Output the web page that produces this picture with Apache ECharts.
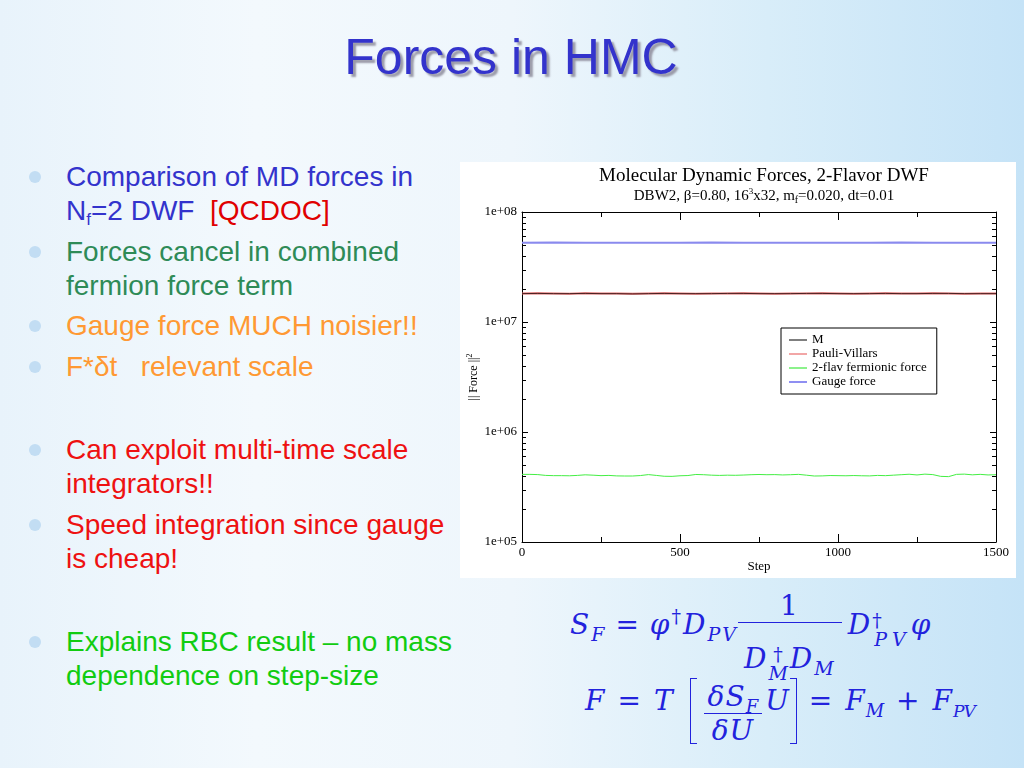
<!DOCTYPE html>
<html><head><meta charset="utf-8">
<script src="https://cdn.jsdelivr.net/npm/echarts@6/dist/echarts.min.js"></script>
<style>
html,body{margin:0;padding:0;}
#slide{position:relative;width:1024px;height:768px;overflow:hidden;
  background:linear-gradient(90deg,#e8f3fb 0%,#f3f9fd 25%,#eef6fc 50%,#d8edf9 75%,#c5e3f7 100%);
  font-family:'Liberation Sans',Arial,sans-serif;}
#title{position:absolute;left:0;top:27px;width:1022px;text-align:center;font-size:50px;line-height:60px;color:#3333cc;text-shadow:3px 3px 2px #9a9aa8;}
.ln{position:absolute;left:66px;font-size:28px;line-height:34px;white-space:nowrap;}
.ln sub{font-size:17px;vertical-align:-5px;line-height:0;}
.dot{position:absolute;left:29px;width:12px;height:12px;border-radius:50%;background:#c2ddf3;}
.blue{color:#3333cc}.red{color:#e00000}.teal{color:#2e8b57}.orange{color:#ff9933}.lred{color:#ee1111}.green{color:#11cc11}
#chart{position:absolute;left:460px;top:162px;width:556px;height:416px;background:#fff;}
.math{position:absolute;font-family:'DejaVu Serif',serif;font-size:28px;color:#2222dd;white-space:nowrap;line-height:34px;}
#f1{letter-spacing:2px}
#f2{letter-spacing:1px}
.it{font-style:italic}
.sb{font-size:19px;font-style:italic;vertical-align:-7px;line-height:0;}
.sp{font-size:19px;vertical-align:11px;line-height:0;}
.ss{display:inline-block;vertical-align:-12px;font-size:19px;line-height:19px;}
.ss span{display:block}
.ss.w span + span{letter-spacing:5px;padding-left:2px}
.frac{display:inline-block;text-align:center;margin:0 3px;}
.frac .num{display:block;border-bottom:1.5px solid #2222dd;padding:0 10px;line-height:32px;}
.frac .den{display:block;line-height:34px;}
#f1 .frac{vertical-align:-34px;margin:0 6px 0 0}
#f1 .frac .den{padding:22px 6px 0 6px;line-height:20px;}
#f1 .op{margin:0 9px}
#f2 .frac{vertical-align:-30px}
#f2 .frac .num{padding:0 4px}
#f2 .sb{letter-spacing:0;font-size:18px}
#f2 .sb.n{letter-spacing:-1px;font-size:17px}
.op{margin:0 12px;font-style:normal}
.brk{display:inline-block;width:6px;height:64px;vertical-align:-34px;border:1.5px solid #2222dd;}
.brk.l{border-right:none;margin-right:4px;margin-left:16px}
.brk.r{border-left:none;margin-left:0;margin-right:0}
</style></head>
<body>
<div id="slide">
  <div id="title">Forces in HMC</div>

  <div class="dot" style="top:171px"></div>
  <div class="ln blue" style="top:160px">Comparison of MD forces in</div>
  <div class="ln blue" style="top:194px">N<sub>f</sub>=2 DWF&nbsp; <span class="red">[QCDOC]</span></div>
  <div class="dot" style="top:246px"></div>
  <div class="ln teal" style="top:235px">Forces cancel in combined</div>
  <div class="ln teal" style="top:269px">fermion force term</div>
  <div class="dot" style="top:320px"></div>
  <div class="ln orange" style="top:309px">Gauge force MUCH noisier!!</div>
  <div class="dot" style="top:361px"></div>
  <div class="ln orange" style="top:350px">F*δt &nbsp; relevant scale</div>
  <div class="dot" style="top:444px"></div>
  <div class="ln lred" style="top:433px">Can exploit multi-time scale</div>
  <div class="ln lred" style="top:467px">integrators!!</div>
  <div class="dot" style="top:519px"></div>
  <div class="ln lred" style="top:508px">Speed integration since gauge</div>
  <div class="ln lred" style="top:542px">is cheap!</div>
  <div class="dot" style="top:636px"></div>
  <div class="ln green" style="top:625px">Explains RBC result – no mass</div>
  <div class="ln green" style="top:659px">dependence on step-size</div>

  <div id="chart"></div>

  <div id="f1" class="math" style="left:570px;top:590px"><span class="it">S</span><span class="sb">F</span><span class="op">=</span><span class="it">φ</span><span class="sp">†</span><span class="it">D</span><span class="sb">PV</span><span class="frac"><span class="num">1</span><span class="den"><span class="it">D</span><span class="ss"><span>†</span><span class="it">M</span></span><span class="it">D</span><span class="sb">M</span></span></span><span class="it">D</span><span class="ss w"><span>†</span><span class="it">PV</span></span><span class="it">φ</span></div>
  <div id="f2" class="math" style="left:585px;top:678px"><span class="it">F</span><span class="op">=</span><span class="it">T</span><span class="brk l"></span><span class="frac"><span class="num"><span class="it">δS</span><span class="sb">F</span></span><span class="den"><span class="it">δU</span></span></span><span class="it">U</span><span class="brk r"></span><span class="op">=</span><span class="it">F</span><span class="sb">M</span><span class="op">+</span><span class="it">F</span><span class="sb n">PV</span></div>
</div>
<script>
// ---- data ----
const stepsFermion = [0,25,50,75,100,125,150,175,200,225,250,275,300,325,350,375,400,425,450,475,500,525,550,575,600,625,650,675,700,725,750,775,800,825,850,875,900,925,950,975,1000,1025,1050,1075,1100,1125,1150,1175,1200,1225,1250,1275,1300,1325,1350,1375,1400,1425,1450,1475,1500];
const fermionForce = [4.12e5,4.12e5,4.10e5,4.03e5,4.01e5,4.01e5,4.00e5,4.03e5,4.08e5,4.05e5,4.01e5,4.03e5,3.99e5,3.98e5,3.98e5,4.02e5,4.10e5,4.03e5,3.96e5,3.95e5,4.00e5,4.02e5,4.11e5,4.09e5,4.05e5,4.03e5,4.05e5,4.04e5,4.06e5,4.09e5,4.11e5,4.09e5,4.10e5,4.07e5,4.09e5,4.12e5,4.05e5,3.98e5,3.99e5,4.02e5,4.01e5,4.00e5,4.02e5,4.00e5,3.99e5,4.03e5,4.01e5,4.05e5,4.09e5,4.13e5,4.07e5,4.14e5,4.10e5,3.95e5,3.93e5,4.12e5,4.14e5,4.08e5,4.12e5,4.07e5,4.09e5];
const stepsMPV = [0,50,100,150,200,250,300,350,400,450,500,550,600,650,700,750,800,850,900,950,1000,1050,1100,1150,1200,1250,1300,1350,1400,1450,1500];
const pauliVillars = [1.82e7,1.83e7,1.82e7,1.81e7,1.83e7,1.82e7,1.82e7,1.81e7,1.82e7,1.83e7,1.82e7,1.81e7,1.82e7,1.82e7,1.83e7,1.82e7,1.81e7,1.82e7,1.82e7,1.83e7,1.82e7,1.81e7,1.82e7,1.83e7,1.82e7,1.82e7,1.83e7,1.82e7,1.81e7,1.82e7,1.82e7];
const mForce = [1.81e7,1.82e7,1.81e7,1.81e7,1.82e7,1.81e7,1.81e7,1.80e7,1.81e7,1.82e7,1.81e7,1.81e7,1.81e7,1.82e7,1.82e7,1.81e7,1.81e7,1.81e7,1.82e7,1.82e7,1.81e7,1.81e7,1.81e7,1.82e7,1.81e7,1.81e7,1.82e7,1.82e7,1.81e7,1.81e7,1.81e7];
const stepsGauge = [0,100,200,300,400,500,600,700,800,900,1000,1100,1200,1300,1400,1500];
const gaugeForce = [5.26e7,5.27e7,5.26e7,5.26e7,5.25e7,5.26e7,5.27e7,5.26e7,5.26e7,5.25e7,5.26e7,5.26e7,5.27e7,5.26e7,5.26e7,5.25e7];
const seriesNames = ['M','Pauli-Villars','2-flav fermionic force','Gauge force'];
const xTickLabels = {0:'0',500:'500',1000:'1000',1500:'1500'};
const yTickLabels = {1e5:'1e+05',1e6:'1e+06',1e7:'1e+07',1e8:'1e+08'};
const yMinorTicks = [2e5,3e5,4e5,5e5,6e5,7e5,8e5,9e5,2e6,3e6,4e6,5e6,6e6,7e6,8e6,9e6,2e7,3e7,4e7,5e7,6e7,7e7,8e7,9e7];

const zip = (xs, ys) => xs.map((x, i) => [x, ys[i]]);
const serif = "'Liberation Serif','Times New Roman',serif";
const chart = echarts.init(document.getElementById('chart'), null, {renderer:'canvas'});
const axisCommon = {axisLine:{show:true,onZero:false,lineStyle:{color:'#000',width:1}}, splitLine:{show:false}};
chart.setOption({
  animation:false,
  backgroundColor:'#fff',
  textStyle:{fontFamily:serif},
  title:{
    text:'Molecular Dynamic Forces, 2-Flavor DWF',
    subtext:'DBW2, β=0.80, 16{sup|3}x32, m{sub|f}=0.020, dt=0.01',
    left:299, top:0, textAlign:'center', itemGap:1,
    textStyle:{fontFamily:serif,fontSize:19,fontWeight:'normal',color:'#000'},
    subtextStyle:{fontFamily:serif,fontSize:15,color:'#000',
      rich:{sup:{fontSize:9,verticalAlign:'top',padding:[0,0,9,0],fontFamily:serif,color:'#000'},
            sub:{fontSize:10,verticalAlign:'bottom',padding:[7,0,0,0],fontFamily:serif,color:'#000'}}}
  },
  grid:{left:62,top:50,right:20,bottom:36,containLabel:false,outerBoundsMode:'none'},
  legend:{
    data:seriesNames, orient:'vertical', left:321, top:166,
    backgroundColor:'#fff', borderColor:'#000', borderWidth:1, padding:[5,10,5,8],
    icon:'rect', itemWidth:18, itemHeight:1.5, itemGap:0,
    textStyle:{fontFamily:serif,fontSize:13,color:'#000',lineHeight:14}
  },
  xAxis:[
    Object.assign({type:'value',min:0,max:1500,interval:500,position:'bottom',
      name:'Step',nameLocation:'middle',nameGap:18,nameMoveOverlap:false,nameTextStyle:{fontFamily:serif,fontSize:13,color:'#000'},
      axisTick:{show:true,inside:true,length:8,lineStyle:{color:'#000'}},
      minorTick:{show:true,splitNumber:2,length:5,lineStyle:{color:'#000'}},
      axisLabel:{fontFamily:serif,fontSize:13,color:'#000',margin:4,hideOverlap:false,formatter:v=>xTickLabels[v]||''}}, axisCommon),
    Object.assign({type:'value',min:0,max:1500,interval:500,position:'top',
      axisTick:{show:true,inside:true,length:8,lineStyle:{color:'#000'}},
      minorTick:{show:true,splitNumber:2,length:5,lineStyle:{color:'#000'}},
      axisLabel:{show:false}}, axisCommon)
  ],
  yAxis:[
    Object.assign({type:'log',logBase:10,min:1e5,max:1e8,position:'left',
      name:'|| Force ||{sup|2}',nameLocation:'middle',nameGap:40,nameRotate:90,nameMoveOverlap:false,
      nameTextStyle:{fontFamily:serif,fontSize:12,color:'#000',
        rich:{sup:{fontSize:8,verticalAlign:'top',padding:[0,0,8,0],fontFamily:serif,color:'#000'}}},
      axisTick:{show:true,inside:true,length:6,lineStyle:{color:'#000'}},
      axisLabel:{fontFamily:serif,fontSize:13,color:'#000',margin:5,formatter:v=>yTickLabels[v]||''}}, axisCommon),
    Object.assign({type:'log',logBase:10,min:1e5,max:1e8,position:'right',
      axisTick:{show:true,inside:true,length:6,lineStyle:{color:'#000'}},
      axisLabel:{show:false}}, axisCommon)
  ],
  series:[
    {name:'Gauge force',type:'line',symbol:'none',data:zip(stepsGauge,gaugeForce),lineStyle:{color:'#8a8aee',width:2},itemStyle:{color:'#6a6aee'},z:3},
    {name:'2-flav fermionic force',type:'line',symbol:'none',data:zip(stepsFermion,fermionForce),lineStyle:{color:'#44ee44',width:1},itemStyle:{color:'#66ee66'},z:3},
    {name:'Pauli-Villars',type:'line',symbol:'none',data:zip(stepsMPV,pauliVillars),lineStyle:{color:'#e06666',width:2},itemStyle:{color:'#ee8888'},z:3},
    {name:'M',type:'line',symbol:'none',data:zip(stepsMPV,mForce),lineStyle:{color:'#4a2222',width:1},itemStyle:{color:'#555'},z:4},
    {type:'custom',silent:true,clip:false,z:5,data:yMinorTicks.map(v=>[0,v]),
      renderItem:function(params, api){
        const v = api.value(1);
        const a = api.coord([0, v]);
        const b = api.coord([1500, v]);
        const y = Math.round(a[1]) + 0.5;
        return {type:'group',children:[
          {type:'line',shape:{x1:a[0],y1:y,x2:a[0]+4,y2:y},style:{stroke:'#000',lineWidth:1}},
          {type:'line',shape:{x1:b[0]-4,y1:y,x2:b[0],y2:y},style:{stroke:'#000',lineWidth:1}}
        ]};
      }}
  ]
});
</script>
</body></html>
